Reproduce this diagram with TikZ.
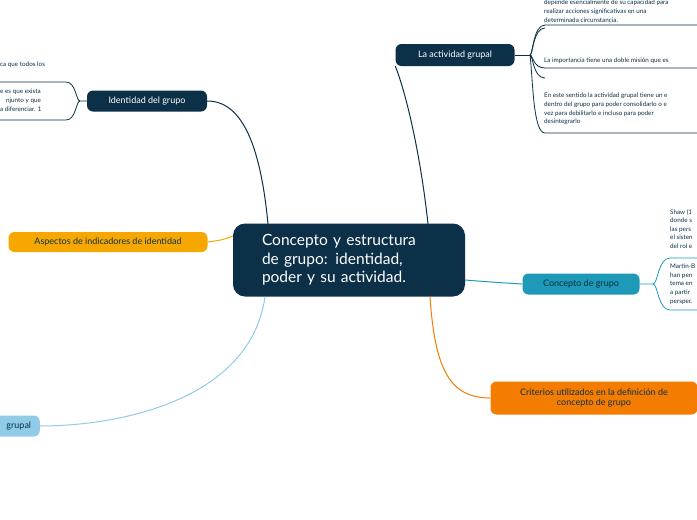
\documentclass[tikz,border=0pt]{standalone}
\usepackage{fontspec}
\setmainfont{Lato}
\definecolor{navy}{HTML}{0B3048}
\definecolor{teal1}{HTML}{1E9AB8}
\definecolor{orA}{HTML}{F6A800}
\definecolor{orB}{HTML}{F47C00}
\definecolor{lblue}{HTML}{90CBE8}
\begin{document}
\begin{tikzpicture}[x=1pt,y=-1pt,
 topic/.style={rounded corners=6pt,inner sep=0pt,font=\fontsize{9}{10}\selectfont,align=center},
 small/.style={font=\fontsize{6.3}{8.6}\selectfont,align=left,anchor=north west,inner sep=0pt},
 conn/.style={line width=1pt}]
\useasboundingbox (0,0) rectangle (697,520);
\clip (0,0) rectangle (697,520);
\fill[white] (0,0) rectangle (697,520);
% central
\node[topic,fill=navy,text=white,minimum width=232pt,minimum height=73pt,rounded corners=12pt,font=\fontsize{15.5}{18.5}\selectfont,align=left,text width=174pt,inner xsep=29pt] (c) at (349,260) {Concepto y estructura\\de grupo: identidad,\\poder y su actividad.};
\node[topic,fill=navy,text=white,minimum width=119pt,minimum height=22pt] (act) at (455,55) {La actividad grupal};
\node[topic,fill=navy,text=white,minimum width=120pt,minimum height=21pt] (ide) at (147,101) {Identidad del grupo};
\node[topic,fill=orA,text=navy,minimum width=199pt,minimum height=20pt] (asp) at (108,242) {Aspectos de indicadores de identidad};
\node[topic,fill=teal1,text=navy,minimum width=117pt,minimum height=21pt] (con) at (581,284) {Concepto de grupo};
\node[topic,fill=orB,text=navy,minimum width=207pt,minimum height=33pt] (cri) at (594,398) {Criterios utilizados en la definición de\\concepto de grupo};
\node[topic,fill=lblue,text=navy,minimum width=80pt,minimum height=21pt,anchor=east] (gru) at (40,426) {\hspace*{38pt}grupal};
% connectors
\draw[conn,navy] (428,224) .. controls (420,150) and (405,90) .. (act.south west) ;
\draw[conn,navy] (268,224) .. controls (260,140) and (240,101) .. (ide.east);
\draw[conn,orA] (c.west|-asp.east) ++(0,-6) .. controls (222,240) .. (asp.east);
\draw[conn,teal1] (c.east) ++(0,20) .. controls (490,282) .. (con.west);
\draw[conn,orB] (430,297) .. controls (435,370) and (450,398) .. (cri.west);
\draw[conn,lblue] (265,297) .. controls (250,400) and (120,426) .. (gru.east);
% actividad brackets
\coordinate (ab) at (530,55);
\draw[navy,line width=0.8pt] (act.east) -- (ab);
\draw[navy,line width=0.8pt] (ab) .. controls (533,55) and (533,25) .. (545,25) -- (697,25);
\draw[navy,line width=0.8pt] (ab) .. controls (533,55) and (533,28) .. (545,28) (ab) .. controls (533,55) and (533,68) .. (545,68) -- (697,68);
\draw[navy,line width=0.8pt] (ab) .. controls (533,55) and (533,78) .. (545,78) (ab) .. controls (533,80) and (533,133) .. (545,133) -- (697,133);
\node[small,text=navy] (a1) at (544,0) {depende esencialmente de su capacidad para\\realizar acciones significativas en una\\determinada circunstancia.};
\node[small,text=navy] (a2) at (544,58) {La importancia tiene una doble misión que es};
\node[small,text=navy] (a3) at (544,93) {En este sentido la actividad grupal tiene un e\\dentro del grupo para poder consolidarlo o e\\vez para debilitarlo e incluso para poder\\desintegrarlo};
% identidad bracket
\draw[navy,line width=0.8pt] (ide.west) -- (80,101) .. controls (76,101) and (76,82) .. (66,82) -- (0,82);
\draw[navy,line width=0.8pt] (80,101) .. controls (76,101) and (76,120) .. (66,120) -- (0,120);
\node[small,text=navy] (i0) at (0,62) {ca que todos los};
\node[small,text=navy] (i1) at (0,89) {e es que exista\\\hspace*{6pt}njunto y que\\a diferenciar. 1};
% concepto brackets
\draw[teal1,line width=0.8pt] (con.east) -- (653,284) .. controls (658,284) and (658,258) .. (670,258) -- (697,258);
\draw[teal1,line width=0.8pt] (653,284) .. controls (658,284) and (658,310) .. (670,310) -- (697,310);
\node[small,text=navy] (k1) at (670,209) {Shaw (1\\donde s\\las pers\\el sisten\\del rol e};
\node[small,text=navy] (k2) at (670,264) {Martín-B\\han pen\\tema en\\a partir\\perspec};
\end{tikzpicture}
\end{document}
